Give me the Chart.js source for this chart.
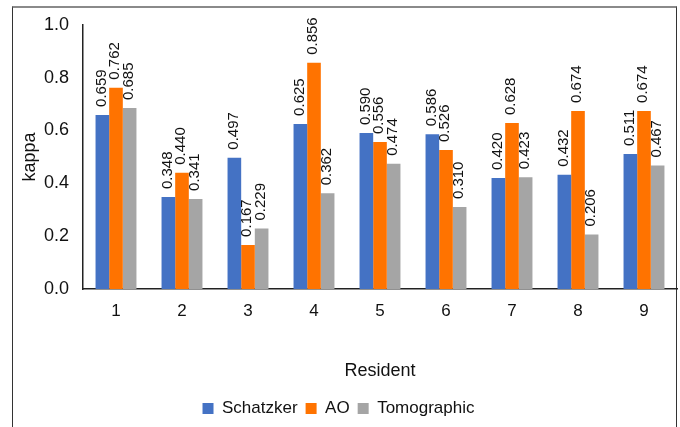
<!DOCTYPE html>
<html>
<head>
<meta charset="utf-8">
<script src="https://cdn.jsdelivr.net/npm/chart.js@4.4.1/dist/chart.umd.min.js"></script>
<style>
  html, body { margin: 0; padding: 0; background: #fff; overflow: hidden; }
  #wrap { position: relative; width: 680px; height: 427px; }
  #frame { position: absolute; left: 12px; top: 6px; width: 665px; height: 440px;
    border-left: 1px solid #333; border-right: 1px solid #333; border-top: 2px solid #8a8a8a; box-sizing: border-box; }
  canvas { position: absolute; left: 0; top: 0; }
</style>
</head>
<body>
<div id="wrap">
  <div id="frame"></div>
  <canvas id="chart" width="680" height="427"></canvas>
</div>
<script>
// residents
const residents = ['1', '2', '3', '4', '5', '6', '7', '8', '9'];

// kappa values per classification
const schatzker = [0.659, 0.348, 0.497, 0.625, 0.590, 0.586, 0.420, 0.432, 0.511];
const ao = [0.762, 0.440, 0.167, 0.856, 0.556, 0.526, 0.628, 0.674, 0.674];
const tomographic = [0.685, 0.341, 0.229, 0.362, 0.474, 0.310, 0.423, 0.206, 0.467];

const yTicks = [0, 0.2, 0.4, 0.6, 0.8, 1.0];

const fontName = "'Liberation Sans', Arial, sans-serif";

// waarde boven elke balk, gedraaid
const barLabels = {
  id: 'barLabels',
  afterDatasetsDraw(chart) {
    const ctx = chart.ctx;
    ctx.save();
    ctx.fillStyle = '#111';
    ctx.font = '15px ' + fontName;
    ctx.textAlign = 'left';
    ctx.textBaseline = 'middle';
    chart.data.datasets.forEach((ds, i) => {
      const meta = chart.getDatasetMeta(i);
      meta.data.forEach((bar, j) => {
        ctx.save();
        ctx.translate(bar.x - 1, bar.y - 8);
        ctx.rotate(-Math.PI / 2);
        ctx.fillText(ds.data[j].toFixed(3), 0, 0);
        ctx.restore();
      });
    });
    ctx.restore();
  }
};

new Chart(document.getElementById('chart'), {
  type: 'bar',
  data: {
    labels: residents,
    datasets: [
      { label: 'Schatzker', data: schatzker, backgroundColor: '#4472C4' },
      { label: 'AO', data: ao, backgroundColor: '#FF7300' },
      { label: 'Tomographic', data: tomographic, backgroundColor: '#A5A5A5' }
    ]
  },
  options: {
    responsive: false,
    animation: false,
    devicePixelRatio: 1,
    categoryPercentage: 0.62,
    barPercentage: 1,
    layout: { padding: { left: 0, right: 3, top: 20, bottom: 0 } },
    plugins: {
      legend: {
        position: 'bottom',
        labels: {
          font: { family: fontName, size: 17 },
          color: '#111',
          boxWidth: 11,
          boxHeight: 11,
          padding: 8
        }
      },
      tooltip: { enabled: false }
    },
    scales: {
      x: {
        grid: { display: false, drawTicks: false },
        border: { color: '#222', width: 1.5 },
        ticks: { font: { family: fontName, size: 17 }, color: '#111', padding: 12 },
        title: { display: true, text: 'Resident', font: { family: fontName, size: 18 }, color: '#111', padding: { bottom: 10 } },
        afterFit(scale) { scale.height = 103; }
      },
      y: {
        min: 0,
        max: 1,
        afterBuildTicks(scale) { scale.ticks = yTicks.map(v => ({ value: v })); },
        grid: { display: false, drawTicks: false },
        border: { color: '#222', width: 1.5 },
        ticks: {
          font: { family: fontName, size: 18 },
          color: '#111',
          padding: 14,
          callback: v => v.toFixed(1)
        },
        title: { display: true, text: 'kappa', font: { family: fontName, size: 18 }, color: '#111', padding: { top: 19 } },
        afterFit(scale) { scale.width = 83; }
      }
    }
  },
  plugins: [barLabels]
});
</script>
</body>
</html>
